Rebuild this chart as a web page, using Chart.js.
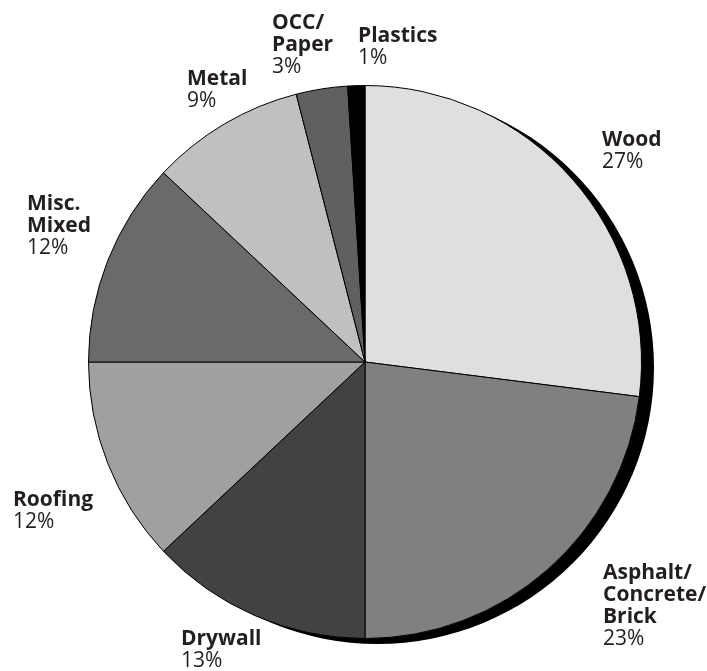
<!DOCTYPE html>
<html>
<head>
<meta charset="utf-8">
<script src="https://cdn.jsdelivr.net/npm/chart.js@4.4.1/dist/chart.umd.min.js"></script>
<style>
  html, body { margin: 0; padding: 0; background: #fff; }
  #wrap { width: 707px; height: 671px; position: relative; }
</style>
</head>
<body>
<div id="wrap"><canvas id="c"></canvas></div>
<script>
// C&D waste composition — pie
const CATEGORIES = ['Wood', 'Asphalt/ Concrete/ Brick', 'Drywall', 'Roofing', 'Misc. Mixed', 'Metal', 'OCC/ Paper', 'Plastics'];
const SHARES = [27, 23, 13, 12, 12, 9, 3, 1];
const FILLS = ['#dfdfdf', '#808080', '#424242', '#a0a0a0', '#6a6a6a', '#c0c0c0', '#606060', '#000000'];

// label placement: left edge / first baseline, relative to pie centre
const LABEL_OFFSETS = [
  [237, -216], [238, 217], [-184, 283], [-352, 144],
  [-338, -152], [-178, -277], [-93, -333], [-7, -320],
];

const FONT = "'Open Sans', sans-serif";
const LINE_H = 22;

const shadow = {
  id: 'shadow',
  beforeDatasetsDraw(chart) {
    const arc = chart.getDatasetMeta(0).data[0];
    if (!arc) return;
    const ctx = chart.ctx;
    ctx.save();
    ctx.fillStyle = '#000';
    ctx.beginPath();
    ctx.arc(arc.x + 12.5, arc.y + 5.5, arc.outerRadius, 0, Math.PI * 2);
    ctx.fill();
    ctx.restore();
  },
};

const sliceLabels = {
  id: 'sliceLabels',
  afterDatasetsDraw(chart) {
    const arc = chart.getDatasetMeta(0).data[0];
    if (!arc) return;
    const ctx = chart.ctx;
    ctx.save();
    ctx.fillStyle = '#231f20';
    ctx.textAlign = 'left';
    ctx.textBaseline = 'alphabetic';
    CATEGORIES.forEach((name, i) => {
      const x = arc.x + LABEL_OFFSETS[i][0];
      let y = arc.y + LABEL_OFFSETS[i][1];
      ctx.font = 'bold 21px ' + FONT;
      name.split(' ').forEach(line => { ctx.fillText(line, x, y); y += LINE_H; });
      ctx.font = '21px ' + FONT;
      ctx.fillText(SHARES[i] + '%', x, y);
    });
    ctx.restore();
  },
};

new Chart(document.getElementById('c'), {
  type: 'pie',
  data: {
    labels: CATEGORIES,
    datasets: [{
      data: SHARES,
      backgroundColor: FILLS,
      borderColor: '#000',
      borderWidth: 1,
    }],
  },
  options: {
    responsive: true, maintainAspectRatio: false,
    animation: false,
    layout: { padding: { top: 85, bottom: 32, left: 88, right: 65 } },
    plugins: { legend: { display: false }, tooltip: { enabled: false } },
  },
  plugins: [shadow, sliceLabels],
});
</script>
</body>
</html>
